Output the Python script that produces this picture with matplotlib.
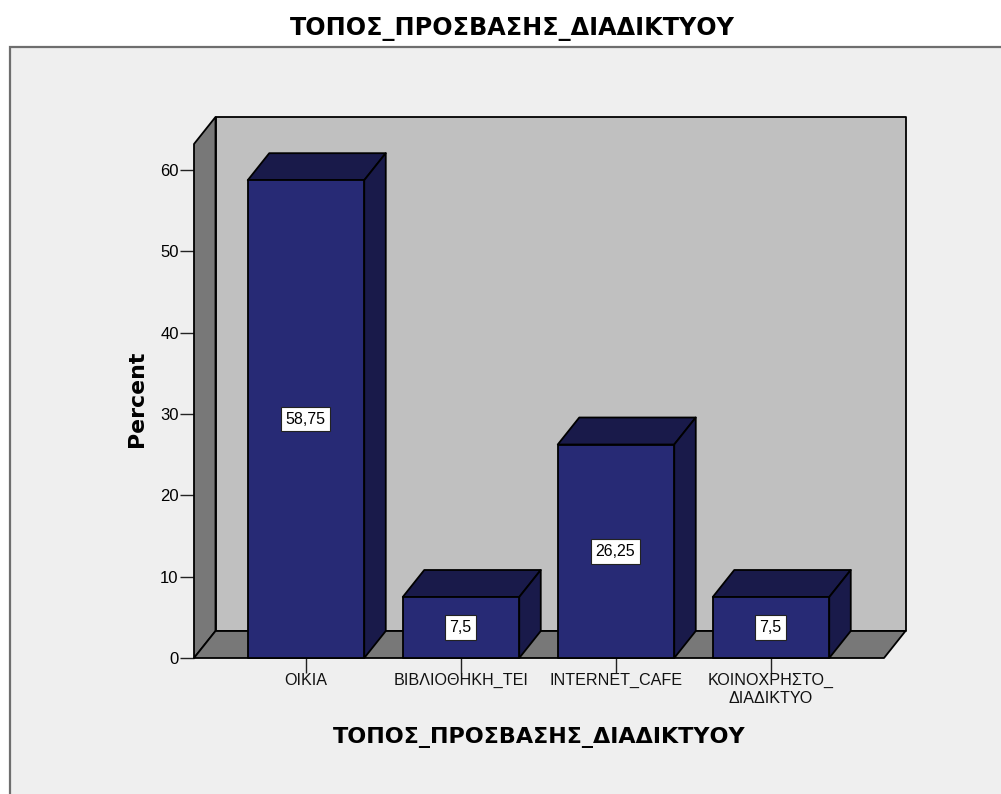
import matplotlib
matplotlib.use('Agg')
from matplotlib import pyplot as plt
from matplotlib.patches import Polygon, Rectangle

# data
categories = ['ΟΙΚΙΑ', 'ΒΙΒΛΙΟΘΗΚΗ_ΤΕΙ', 'INTERNET_CAFE', 'ΚΟΙΝΟΧΡΗΣΤΟ_\nΔΙΑΔΙΚΤΥΟ']
values = [58.75, 7.5, 26.25, 7.5]
value_labels = ['58,75', '7,5', '26,25', '7,5']
y_ticks = [0, 10, 20, 30, 40, 50, 60]
title = 'ΤΟΠΟΣ_ΠΡΟΣΒΑΣΗΣ_ΔΙΑΔΙΚΤΥΟΥ'

W, H = 1001, 794
plt.rcParams['font.family'] = ['Liberation Sans', 'DejaVu Sans']

fig = plt.figure(figsize=(W / 100, H / 100), dpi=100, facecolor='white')

# gray panel behind the chart
fig.add_artist(Rectangle((10 / W, -0.01), 1.0, (H - 47) / H + 0.01, transform=fig.transFigure,
                         facecolor='#EFEFEF', edgecolor='#6E6E6E', linewidth=1.6, zorder=-1))

# axes covers the front face of the 3d box
ax = fig.add_axes([194 / W, (H - 658) / H, 690 / W, 514 / H])
ax.set_xlim((194 - 306) / 155, (884 - 306) / 155)
ax.set_ylim(0, 514 / 8.133)
ax.patch.set_visible(False)
for s in ax.spines.values():
    s.set_visible(False)

dx = 21.5 / 155   # depth in category units
dy = 27 / 8.133   # depth in percent units
x0, x1 = ax.get_xlim()
ytop = ax.get_ylim()[1]
bar_w = 116.5 / 155


def face(pts, color, z):
    ax.add_patch(Polygon(pts, closed=True, facecolor=color, edgecolor='black',
                         linewidth=1.3, joinstyle='round', clip_on=False, zorder=z))


# walls and floor
face([(x0 + dx, dy), (x1 + dx, dy), (x1 + dx, ytop + dy), (x0 + dx, ytop + dy)], '#C0C0C0', 1)
face([(x0, 0), (x0 + dx, dy), (x0 + dx, ytop + dy), (x0, ytop)], '#787878', 2)
face([(x0, 0), (x1, 0), (x1 + dx, dy), (x0 + dx, dy)], '#787878', 2)

# bars
for i, v in enumerate(values):
    l = i - bar_w / 2
    r = i + bar_w / 2
    face([(l, v), (r, v), (r + dx, v + dy), (l + dx, v + dy)], '#191A4A', 3)
    face([(r, 0), (r + dx, dy), (r + dx, v + dy), (r, v)], '#191A4A', 3)
    face([(l, 0), (r, 0), (r, v), (l, v)], '#272A75', 4)
    ax.text(i - 0.004, v / 2, value_labels[i], ha='center', va='center', fontsize=11.5, color='black', zorder=5,
            bbox=dict(boxstyle='square,pad=0.3', facecolor='white', edgecolor='#222222', linewidth=0.8))

ax.set_xticks(range(len(categories)))
ax.set_xticklabels(categories, fontsize=11.6, color='#111111', linespacing=1.2)
ax.set_yticks(y_ticks)
ax.tick_params(axis='y', labelsize=12, length=10, width=1, pad=1, color='#222222')
ax.tick_params(axis='x', length=11, width=1, pad=0, color='#222222')

ax.set_ylabel('Percent', fontsize=15.8, fontweight='bold', family=['DejaVu Sans'])
ax.yaxis.set_label_coords((147 - 194) / 690, (658 - 399) / 514)
fig.text(539 / W, 1 - 737 / H, title, ha='center', va='center', fontsize=16, fontweight='bold',
         family=['DejaVu Sans'])
fig.text(512.5 / W, 1 - 29 / H, title, ha='center', va='center', fontsize=17.2, fontweight='bold', color='black',
         family=['DejaVu Sans'])

fig.savefig('out.png', dpi=100)
